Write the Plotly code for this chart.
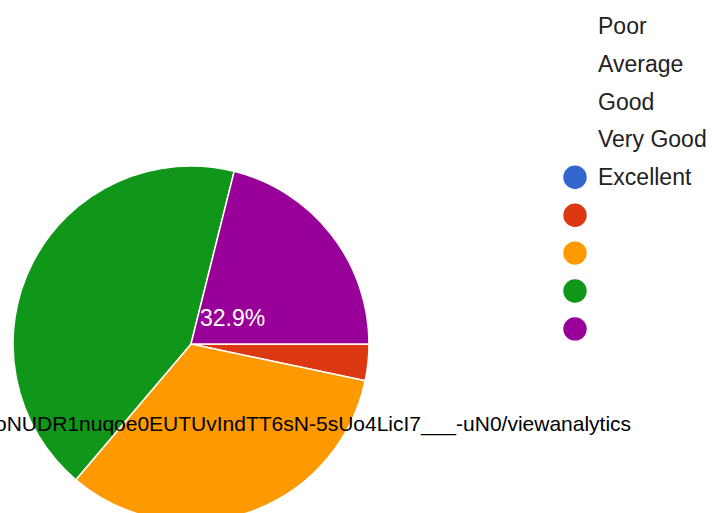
import plotly.graph_objects as go

# ---- data ----
categories = ["Poor", "Average", "Good", "Very Good", "Excellent"]
shares = [0.0, 3.3, 32.9, 42.7, 21.1]
colors = ["#3366CC", "#DC3912", "#FF9900", "#109618", "#990099"]
url_text = "oNUDR1nuqoe0EUTUvIndTT6sN-5sUo4LicI7___-uN0/viewanalytics"

W, H = 712, 540  # drawn taller; the 513 px window crops the bottom of the pie
FONT = "Arial, Liberation Sans, sans-serif"

def px(x):
    return x / W

def py(y):
    return 1 - y / H

cx, cy, r = 191, 344, 178

fig = go.Figure()
fig.add_trace(go.Pie(
    labels=categories,
    values=shares,
    marker=dict(colors=colors, line=dict(color="white", width=1.5)),
    sort=False,
    direction="clockwise",
    rotation=90,
    textinfo="none",
    hoverinfo="label+percent",
    showlegend=False,
    domain=dict(x=[px(cx - r), px(cx + r)], y=[py(cy + r), py(cy - r)]),
))

annotations = []
shapes = []

# percentage label (as positioned in the reference)
pct = shares[2] / sum(shares) * 100
annotations.append(dict(
    x=px(198), y=py(318), xref="paper", yref="paper",
    xanchor="left", yanchor="middle", showarrow=False,
    text=f"{pct:.1f}%", font=dict(family=FONT, size=23, color="white"),
))

# legend: labels and markers (markers shifted by four rows, as in the reference)
row0, step = 25.7, 37.9
for i, name in enumerate(categories):
    annotations.append(dict(
        x=px(596), y=py(row0 + step * i), xref="paper", yref="paper",
        xanchor="left", yanchor="middle", showarrow=False,
        text=name, font=dict(family=FONT, size=23, color="#222222"),
    ))
rad = 11.7
for j, c in enumerate(colors):
    yc = row0 + step * (j + 4)
    shapes.append(dict(
        type="circle", xref="paper", yref="paper",
        x0=px(575 - rad), x1=px(575 + rad), y0=py(yc + rad), y1=py(yc - rad),
        fillcolor=c, line=dict(width=0),
    ))

# url text
annotations.append(dict(
    x=px(633), y=py(424), xref="paper", yref="paper",
    xanchor="right", yanchor="middle", showarrow=False,
    text=url_text, font=dict(family=FONT, size=21, color="black"),
))

fig.update_layout(
    width=W, height=H,
    margin=dict(l=0, r=0, t=0, b=0),
    paper_bgcolor="white", plot_bgcolor="white",
    annotations=annotations, shapes=shapes,
)

fig.write_html(
    "out.html",
    config={"displayModeBar": False},
    post_script="document.body.style.margin='0';document.body.style.overflow='hidden';",
)
